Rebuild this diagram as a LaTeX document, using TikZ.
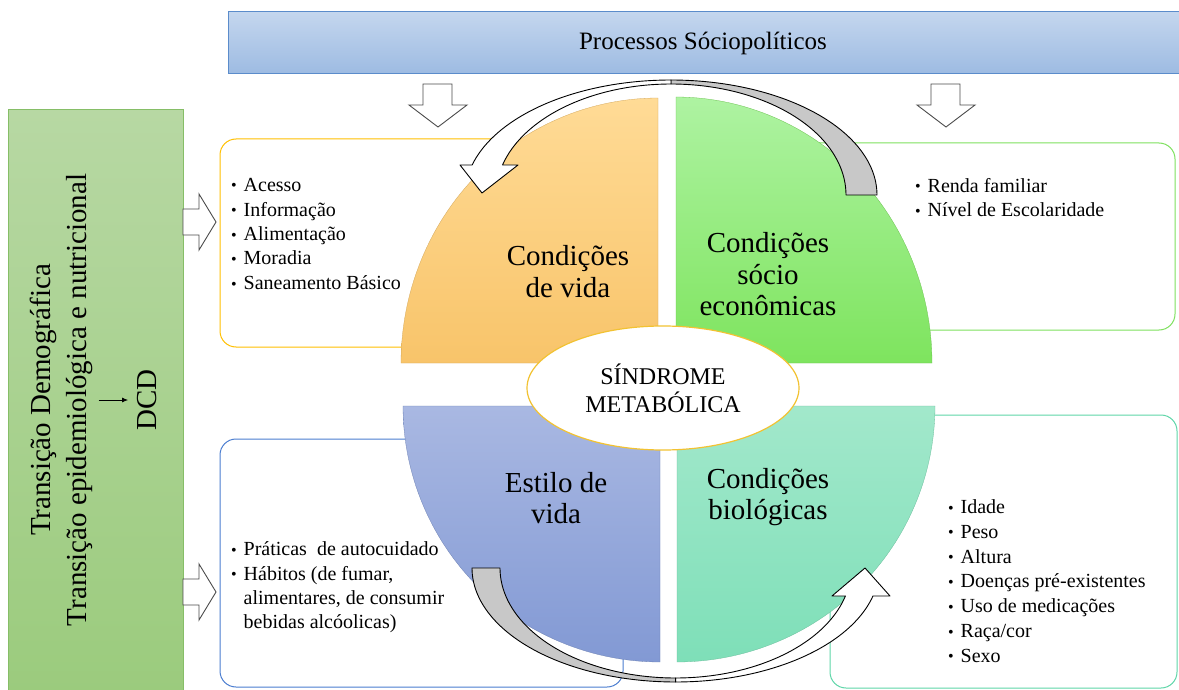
\documentclass[tikz,border=0pt]{standalone}
\usepackage{fontspec}
\setmainfont{Liberation Serif}
\usetikzlibrary{shapes.geometric,arrows.meta}
\definecolor{bnTop}{HTML}{C4D6EE}
\definecolor{bnBot}{HTML}{9DBBE2}
\definecolor{bnLine}{HTML}{5B8CCB}
\definecolor{gbTop}{HTML}{B7D8A3}
\definecolor{gbBot}{HTML}{9BCB7D}
\definecolor{gbLine}{HTML}{86BE67}
\definecolor{orTop}{HTML}{FFDB96}
\definecolor{orBot}{HTML}{F8C46A}
\definecolor{grTop}{HTML}{AEF3A2}
\definecolor{grBot}{HTML}{7EE45E}
\definecolor{blTop}{HTML}{A9B8E2}
\definecolor{blBot}{HTML}{8299D4}
\definecolor{tlTop}{HTML}{A2E8CB}
\definecolor{tlBot}{HTML}{7EDFB8}
\definecolor{bxY}{HTML}{FFC000}
\definecolor{bxG}{HTML}{7FE15F}
\definecolor{bxB}{HTML}{4A7DD0}
\definecolor{bxT}{HTML}{5ED6A8}
\definecolor{elY}{HTML}{F2C232}
\definecolor{arGray}{HTML}{C8C8C8}
\newcommand\mybul{\makebox[12.5pt][l]{\raisebox{0.5pt}{\scalebox{0.8}{•}}}}
\begin{document}
\begin{tikzpicture}[x=1pt,y=-1pt,
  item/.style={anchor=base west, inner sep=0, font=\fontsize{20}{24}\selectfont},
  qlab/.style={align=center, inner sep=0, font=\fontsize{29}{31.5}\selectfont},
  blockarrow/.style={draw=black!70, fill=white, line width=0.9pt, line join=miter},
  infobox/.style={fill=white, line width=1pt, rounded corners=16pt},
  curvarrow/.style={draw=black, line width=0.9pt, line join=round},
  rottext/.style={rotate=90, align=center, inner sep=0, font=\fontsize{29}{36}\selectfont}
]
\useasboundingbox (0,0) rectangle (1179,690);
\fill[white] (0,0) rectangle (1179,690);

% banner
\shadedraw[top color=bnTop, bottom color=bnBot, draw=bnLine, line width=1pt] (228,12) rectangle (1181,74);
\node[font=\fontsize{25}{30}\selectfont, inner sep=0] (proc) at (703,43) {Processos Sóciopolíticos};

% left green box
\shadedraw[top color=gbTop, bottom color=gbBot, draw=gbLine, line width=1pt] (8,110) rectangle (183,693);
\node[rottext] (ltext) at (61,400) {Transição Demográfica\\Transição epidemiológica e nutricional};
\node[rottext] (dcd) at (147,400) {DCD};
\draw[-{Latex[length=6pt,width=5pt]}, line width=0.8pt, shorten <=6pt, shorten >=9pt] (ltext.south) -- (dcd.north);

% block arrows
\draw[blockarrow] (423,84) -- (452,84) -- (452,105) -- (467,105) -- (438,127) -- (409,105) -- (423,105) -- cycle;
\draw[blockarrow] (931,84) -- (960,84) -- (960,105) -- (975,105) -- (946,127) -- (917,105) -- (931,105) -- cycle;
\draw[blockarrow] (183,209) -- (199,209) -- (199,194) -- (216,222) -- (199,250) -- (199,235) -- (183,235) -- cycle;
\draw[blockarrow] (183,579) -- (199,579) -- (199,564) -- (216,592) -- (199,620) -- (199,605) -- (183,605) -- cycle;

% info boxes
\draw[infobox, draw=bxY] (220,139) rectangle (640,347);
\draw[infobox, draw=bxG] (700,143) rectangle (1175,330);
\draw[infobox, draw=bxB] (220,439) rectangle (623,687);
\draw[infobox, draw=bxT] (830,415) rectangle (1177,688);

% quadrants
\shadedraw[top color=orTop, bottom color=orBot, draw=orBot!85!black, line width=0.3pt]
  (658,363) -- plot[domain=180:270, samples=60] ({658+257*cos(\x)},{363+265*sin(\x)}) -- cycle;
\shadedraw[top color=grTop, bottom color=grBot, draw=grBot!85!black, line width=0.3pt]
  (676,363) -- plot[domain=270:360, samples=60] ({676+256*cos(\x)},{363+266*sin(\x)}) -- cycle;
\shadedraw[top color=blTop, bottom color=blBot, draw=blBot!85!black, line width=0.3pt]
  (660,406) -- plot[domain=90:180, samples=60] ({660+257*cos(\x)},{406+256*sin(\x)}) -- cycle;
\shadedraw[top color=tlTop, bottom color=tlBot, draw=tlBot!85!black, line width=0.3pt]
  (677,406) -- plot[domain=0:90, samples=60] ({677+258*cos(\x)},{406+256*sin(\x)}) -- cycle;

% centre ellipse
\node[ellipse, draw=elY, line width=1.2pt, fill=white, minimum width=272pt, minimum height=124pt,
  inner sep=0, align=center, font=\fontsize{24}{28}\selectfont] (sm) at (663,388) {SÍNDROME\\METABÓLICA};

% top curved arrow
\draw[curvarrow, fill=arGray]
  plot[domain=270:360, samples=60] ({671+206*cos(\x)},{195+115*sin(\x)})
  -- plot[domain=360:270, samples=60] ({671+175*cos(\x)},{195+111*sin(\x)}) -- cycle;
\draw[curvarrow, fill=white]
  (460,165) -- (482,193) -- (518,165) -- (502.5,165)
  -- plot[domain=195.68:270, samples=60] ({671+175*cos(\x)},{195+111*sin(\x)})
  -- plot[domain=270:195.12, samples=60] ({671+206*cos(\x)},{195+115*sin(\x)}) -- cycle;

% bottom curved arrow
\draw[curvarrow, fill=arGray]
  plot[domain=180:90, samples=60] ({675.6+203.6*cos(\x)},{568+114*sin(\x)})
  -- plot[domain=90:180, samples=60] ({675.6+175.6*cos(\x)},{568+110*sin(\x)}) -- cycle;
\draw[curvarrow, fill=white]
  plot[domain=90:14.22, samples=60] ({675.6+203.6*cos(\x)},{568+114*sin(\x)})
  -- (890,596) -- (865,568) -- (832,596)
  -- plot[domain=14.75:90, samples=60] ({675.6+175.6*cos(\x)},{568+110*sin(\x)}) -- cycle;

% quadrant labels
\node[qlab] (qv) at (568,271.5) {Condições\\de vida};
\node[qlab] (qs) at (768,274.5) {Condições\\sócio\\econômicas};
\node[qlab] (qe) at (556,498) {Estilo de\\vida};
\node[qlab] (qb) at (768,497) {Condições\\biológicas};

% lists
\foreach \t [count=\i] in {Acesso,Informação,Alimentação,Moradia,Saneamento Básico}
  \node[item] (cv\i) at (231,{191.5+24.5*(\i-1)}) {\mybul\t};
\node[item] (se1) at (915,192.5) {\mybul Renda familiar};
\node[item] (se2) at (915,217) {\mybul Nível de Escolaridade};
\node[item] (ev1) at (231,555.5) {\mybul Práticas~ de autocuidado};
\node[item] (ev2) at (231,580) {\mybul Hábitos (de fumar,};
\node[item] (ev3) at (231,604.3) {\makebox[12.5pt]{}alimentares, de consumir};
\node[item] (ev4) at (231,628.6) {\makebox[12.5pt]{}bebidas alcóolicas)};
\foreach \t [count=\i] in {Idade,Peso,Altura,Doenças pré-existentes,Uso de medicações,Raça/cor,Sexo}
  \node[item] (cb\i) at (948,{513.5+24.8*(\i-1)}) {\mybul\t};
\end{tikzpicture}
\end{document}
